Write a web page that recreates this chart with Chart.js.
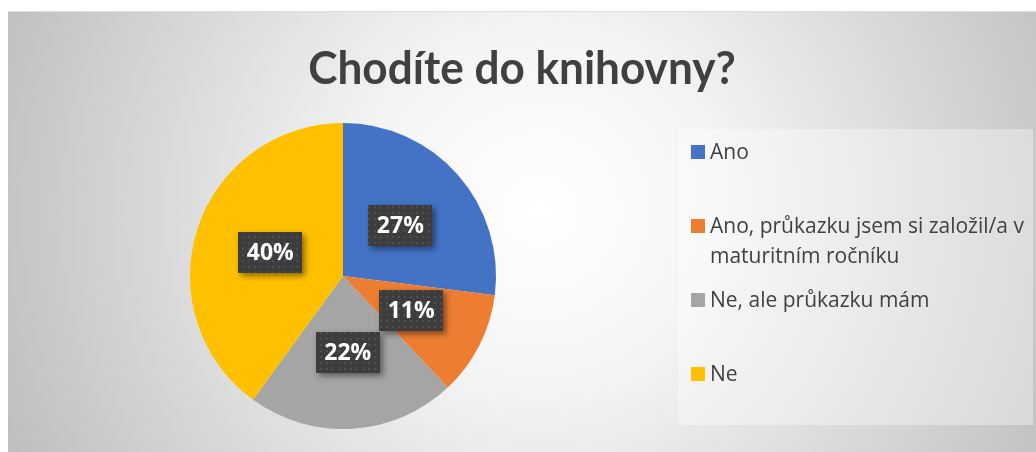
<!DOCTYPE html>
<html>
<head>
<meta charset="utf-8">
<script src="https://cdn.jsdelivr.net/npm/chart.js@4/dist/chart.umd.min.js"></script>
<style>
  html, body { margin: 0; padding: 0; background: #fff; }
  #wrap { position: relative; width: 1036px; height: 452px; overflow: hidden; }
  #chart { position: absolute; left: 0; top: 0; }
  #title {
    position: absolute; left: 8px; right: 0; top: 40px;
    text-align: center; font: bold 45px Lato, "Open Sans", sans-serif; color: #404040;
    transform: scaleX(0.98);
  }
  #legend {
    position: absolute; left: 678px; top: 129px; width: 355px; height: 296px;
    background: rgba(255,255,255,0.35);
  }
  .item { position: absolute; left: 13px; width: 340px; font: 21px "Open Sans", sans-serif; color: #404040; line-height: 30px; }
  .item .sw { position: absolute; left: 0; top: 9px; width: 14px; height: 14px; }
  .item .tx { display: block; padding-left: 19px; }
</style>
</head>
<body>
<div id="wrap">
  <canvas id="chart" width="1036" height="452"></canvas>
  <div id="title"></div>
  <div id="legend"></div>
</div>
<script>
(function() {
    const title = "Chodíte do knihovny?";
    const categories = ["Ano", "Ano, průkazku jsem si založil/a v maturitním ročníku", "Ne, ale průkazku mám", "Ne"];
    const percentages = [27, 11, 22, 40];
    const colors = ["#4472C4", "#ED7D31", "#A5A5A5", "#FFC000"];
    const legendTops = [7, 81, 155, 229];

    document.getElementById("title").textContent = title;

    const legend = document.getElementById("legend");
    categories.forEach((label, i) => {
        const item = document.createElement("div");
        item.className = "item";
        item.style.top = legendTops[i] + "px";
        const sw = document.createElement("span");
        sw.className = "sw";
        sw.style.background = colors[i];
        const tx = document.createElement("span");
        tx.className = "tx";
        tx.textContent = label;
        item.appendChild(sw);
        item.appendChild(tx);
        legend.appendChild(item);
    });

    // dotted fill for the data label boxes
    function dotPattern(ctx) {
        const c = document.createElement("canvas");
        c.width = 6; c.height = 6;
        const p = c.getContext("2d");
        p.fillStyle = "#3d3d3d";
        p.fillRect(0, 0, 6, 6);
        p.fillStyle = "#4e4e4e";
        p.fillRect(2, 2, 2, 2);
        return ctx.createPattern(c, "repeat");
    }

    const background = {
        id: "background",
        beforeDraw(chart) {
            const ctx = chart.ctx;
            ctx.save();
            ctx.fillStyle = "#ffffff";
            ctx.fillRect(0, 0, chart.width, chart.height);
            const g = ctx.createRadialGradient(540, 210, 0, 540, 210, 600);
            g.addColorStop(0, "#ffffff");
            g.addColorStop(0.3, "#f4f4f4");
            g.addColorStop(1, "#bcbcbc");
            ctx.fillStyle = g;
            ctx.fillRect(8, 12, chart.width - 8, chart.height - 12);
            ctx.fillStyle = "rgba(0,0,0,0.12)";
            ctx.fillRect(8, 11, chart.width - 8, 1);
            ctx.restore();
        }
    };

    const boxLabels = {
        id: "boxLabels",
        afterDatasetsDraw(chart) {
            const ctx = chart.ctx;
            const pattern = dotPattern(ctx);
            const meta = chart.getDatasetMeta(0);
            ctx.save();
            ctx.font = "bold 23px 'Open Sans', sans-serif";
            ctx.textAlign = "center";
            ctx.textBaseline = "middle";
            meta.data.forEach((arc, i) => {
                const pos = arc.tooltipPosition();
                const w = 64, h = 41;
                const x = Math.round(pos.x - w / 2), y = Math.round(pos.y - h / 2);
                ctx.save();
                ctx.shadowColor = "rgba(0,0,0,0.45)";
                ctx.shadowBlur = 6;
                ctx.shadowOffsetX = 3;
                ctx.shadowOffsetY = 3;
                ctx.fillStyle = "#3d3d3d";
                ctx.fillRect(x, y, w, h);
                ctx.restore();
                ctx.fillStyle = pattern;
                ctx.fillRect(x, y, w, h);
                ctx.fillStyle = "#ffffff";
                ctx.fillText(percentages[i] + "%", pos.x, pos.y + 1);
            });
            ctx.restore();
        }
    };

    new Chart(document.getElementById("chart"), {
        type: "pie",
        data: {
            labels: categories,
            datasets: [{
                data: percentages,
                backgroundColor: colors,
                borderWidth: 0
            }]
        },
        options: {
            responsive: false,
            animation: false,
            layout: { padding: { left: 190, right: 540, top: 123, bottom: 23 } },
            plugins: {
                legend: { display: false },
                tooltip: { enabled: false }
            }
        },
        plugins: [background, boxLabels]
    });
})();
</script>
</body>
</html>
